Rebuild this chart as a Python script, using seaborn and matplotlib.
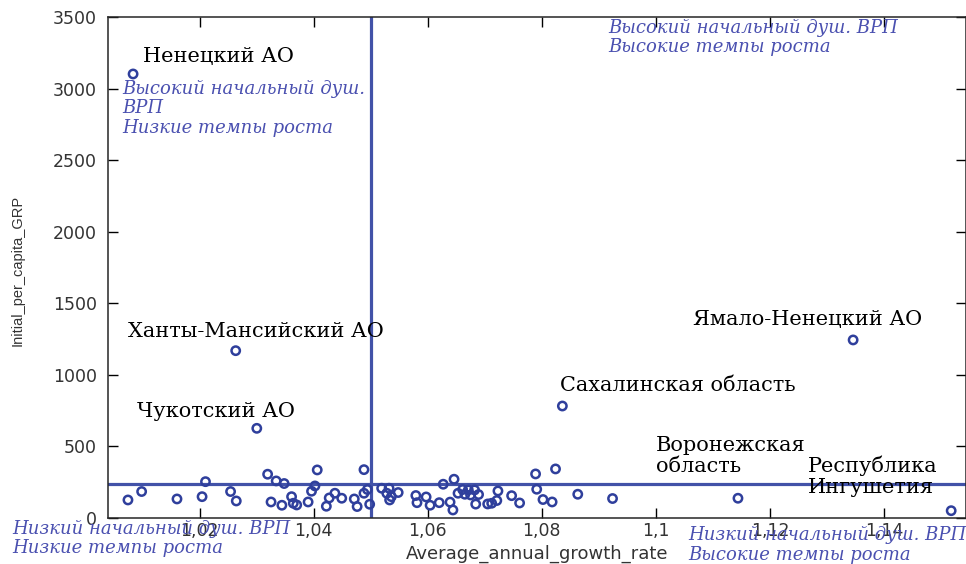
import numpy as np
import pandas as pd
import matplotlib
matplotlib.use("Agg")
import matplotlib.pyplot as plt
import seaborn as sns

# regions shown by name (growth rate, initial per-capita GRP)
named_regions = ["Ненецкий АО", "Ханты-Мансийский АО", "Чукотский АО", "Сахалинская область",
                 "Ямало-Ненецкий АО", "Воронежская область", "Республика Ингушетия"]
named_growth = [1.0083, 1.0263, 1.0300, 1.0836, 1.1346, 1.1144, 1.1518]
named_grp = [3105, 1170, 627, 783, 1245, 138, 51]

# the rest of the regions (cluster near the bottom)
other_growth = [1.0074, 1.0098, 1.0160, 1.0204, 1.0210, 1.0254, 1.0264, 1.0319, 1.0334, 1.0348,
                1.0325, 1.0344, 1.0361, 1.0364, 1.0370, 1.0390, 1.0396, 1.0402, 1.0406, 1.0422,
                1.0427, 1.0437, 1.0449, 1.0471, 1.0476, 1.0488, 1.0488, 1.0494, 1.0498, 1.0519,
                1.0532, 1.0528, 1.0536, 1.0533, 1.0548, 1.0579, 1.0581, 1.0597, 1.0604, 1.0620,
                1.0627, 1.0639, 1.0644, 1.0646, 1.0653, 1.0661, 1.0665, 1.0671, 1.0675, 1.0682,
                1.0684, 1.0689, 1.0705, 1.0712, 1.0721, 1.0723, 1.0747, 1.0761, 1.0789, 1.0791,
                1.0802, 1.0818, 1.0824, 1.0863, 1.0924]
other_grp = [126, 185, 133, 149, 254, 185, 119, 306, 259, 241,
             112, 89, 149, 103, 91, 112, 187, 224, 336, 82,
             140, 173, 138, 133, 80, 338, 173, 199, 96, 208,
             208, 173, 149, 126, 178, 157, 107, 147, 89, 107,
             236, 111, 56, 271, 173, 199, 166, 196, 161, 196,
             97, 164, 98, 103, 122, 189, 156, 105, 308, 201,
             129, 112, 343, 166, 136]

mean_growth = 1.05
mean_grp = 238

x_ticks = [1.02, 1.04, 1.06, 1.08, 1.10, 1.12, 1.14]
x_tick_labels = ["1,02", "1,04", "1,06", "1,08", "1,1", "1,12", "1,14"]
y_ticks = [0, 500, 1000, 1500, 2000, 2500, 3000, 3500]

df = pd.DataFrame({
    "Average_annual_growth_rate": other_growth + named_growth,
    "Initial_per_capita_GRP": other_grp + named_grp,
})

sns.set_style("ticks")
plt.rcParams["font.family"] = ["DejaVu Sans"]

line_blue = "#4252a8"
dot_blue = "#2f3f9c"
note_blue = "#4a50b0"

fig = plt.figure(figsize=(9.66, 5.64), dpi=100)
ax = fig.add_axes([0.1118, 0.0816, 0.8882, 0.8874])

ax.axvline(mean_growth, color=line_blue, linewidth=2.3, zorder=1)
ax.axhline(mean_grp, color=line_blue, linewidth=2.3, zorder=1)

sns.scatterplot(data=df, x="Average_annual_growth_rate", y="Initial_per_capita_GRP",
                marker="o", s=36, facecolor="none", edgecolor=dot_blue, linewidth=1.8,
                ax=ax, zorder=3)

ax.set_xlim(1.0039, 1.1544)
ax.set_ylim(0, 3500)
ax.set_xticks(x_ticks)
ax.set_xticklabels(x_tick_labels)
ax.set_yticks(y_ticks)
ax.tick_params(direction="in", length=7, width=1, top=True, right=True,
               labelsize=12.5, colors="black", labelcolor="#333333")
ax.tick_params(axis="y", pad=8)
ax.tick_params(axis="x", pad=3)
for sp in ax.spines.values():
    sp.set_linewidth(1.1)

ax.set_xlabel("Average_annual_growth_rate", fontsize=13, color="#333333", labelpad=3)
ax.set_ylabel("Initial_per_capita_GRP", fontsize=10.5, color="#333333",
              family="Liberation Sans")
ax.yaxis.set_label_coords(-0.097, 0.495)

# region names
serif = "DejaVu Serif"
name_pos = [
    ("Ненецкий АО", 1.0100, 3224, "center"),
    ("Ханты-Мансийский АО", 1.0074, 1302, "center"),
    ("Чукотский АО", 1.0089, 743, "center"),
    ("Ямало-Ненецкий АО", 1.1065, 1385, "center"),
    ("Сахалинская область", 1.0832, 923, "center"),
    ("Воронежская\nобласть", 1.1000, 570, "top"),
    ("Республика\nИнгушетия", 1.1267, 437, "top"),
]
for txt, xx, yy, va in name_pos:
    ax.text(xx, yy, txt, family=serif, fontsize=15, color="black", va=va, ha="left",
            linespacing=1.12, zorder=4)

# quadrant notes
note_kw = dict(family=serif, style="italic", fontsize=13, color=note_blue,
               va="top", ha="left", linespacing=1.1)
ax.text(1.00632, 3063, "Высокий начальный душ.\nВРП\nНизкие темпы роста", **note_kw)
ax.text(1.0916, 3490, "Высокий начальный душ. ВРП\nВысокие темпы роста", **note_kw)
fig.text(0.0124, 0.078, "Низкий начальный душ. ВРП\nНизкие темпы роста", **note_kw)
fig.text(0.712, 0.067, "Низкий начальный душ. ВРП\nВысокие темпы роста", **note_kw)

fig.savefig("out.png", dpi=100)
